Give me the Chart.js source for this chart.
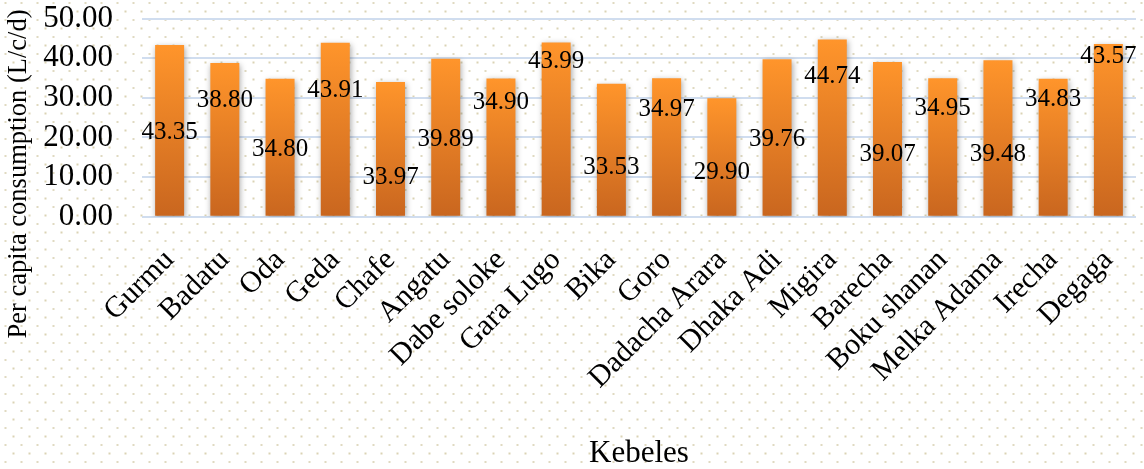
<!DOCTYPE html>
<html>
<head>
<meta charset="utf-8">
<script src="https://cdn.jsdelivr.net/npm/chart.js@4"></script>
<style>
  html, body { margin: 0; padding: 0; background: #fff; }
  #wrap { width: 1144px; height: 469px; }
</style>
</head>
<body>
<div id="wrap"><canvas id="c" width="1144" height="469"></canvas></div>
<script>
// Kebeles and their per-capita water consumption (L/c/d)
const kebeles = ["Gurmu", "Badatu", "Oda", "Geda", "Chafe", "Angatu", "Dabe soloke", "Gara Lugo",
  "Bika", "Goro", "Dadacha Arara", "Dhaka Adi", "Migira", "Barecha", "Boku shanan",
  "Melka Adama", "Irecha", "Degaga"];
const consumption = [43.35, 38.80, 34.80, 43.91, 33.97, 39.89, 34.90, 43.99,
  33.53, 34.97, 29.90, 39.76, 44.74, 39.07, 34.95, 39.48, 34.83, 43.57];
// Height (in axis units) at which each value label sits
const labelAt = [21.3, 29.3, 17.1, 31.9, 10.0, 19.6, 28.8, 39.3,
  12.4, 27.0, 11.1, 19.6, 35.4, 15.8, 27.4, 15.8, 29.6, 40.4];
const yTicks = [0, 10, 20, 30, 40, 50];

const SERIF = '"Liberation Serif", "Times New Roman", serif';

// Dotted paper background
const dotBackground = {
  id: 'dotBackground',
  beforeDraw(chart) {
    const { ctx, width, height } = chart;
    const tile = document.createElement('canvas');
    tile.width = 16; tile.height = 17;
    const t = tile.getContext('2d');
    t.fillStyle = '#ffffff';
    t.fillRect(0, 0, 16, 17);
    t.fillStyle = 'rgba(214,206,172,0.75)';
    t.fillRect(4.5, 2, 2, 2);
    t.fillStyle = 'rgba(214,206,172,0.9)';
    t.fillRect(12.5, 10.5, 2, 2);
    ctx.save();
    ctx.fillStyle = ctx.createPattern(tile, 'repeat');
    ctx.fillRect(0, 0, width, height);
    ctx.restore();
  }
};

// Soft drop shadow under the bars
const barShadow = {
  id: 'barShadow',
  beforeDatasetsDraw(chart) {
    const ctx = chart.ctx;
    ctx.save();
    ctx.shadowColor = 'rgba(0,0,0,0.35)';
    ctx.shadowBlur = 6;
    ctx.shadowOffsetX = 1;
    ctx.shadowOffsetY = 2;
  },
  afterDatasetsDraw(chart) {
    chart.ctx.restore();
  }
};

// Value labels and the vertical axis title
const valueLabels = {
  id: 'valueLabels',
  afterDatasetsDraw(chart) {
    const ctx = chart.ctx;
    const meta = chart.getDatasetMeta(0);
    const y = chart.scales.y;
    ctx.save();
    ctx.font = '25px ' + SERIF;
    ctx.fillStyle = '#000';
    ctx.textAlign = 'center';
    ctx.textBaseline = 'middle';
    meta.data.forEach((bar, i) => {
      ctx.fillText(consumption[i].toFixed(2), bar.x, y.getPixelForValue(labelAt[i]));
    });
    ctx.restore();
  },
  afterDraw(chart) {
    const ctx = chart.ctx;
    ctx.save();
    ctx.translate(19, 174);
    ctx.rotate(-Math.PI / 2);
    ctx.font = '26.5px ' + SERIF;
    ctx.fillStyle = '#000';
    ctx.textAlign = 'center';
    ctx.textBaseline = 'middle';
    ctx.fillText('Per capita consumption (L/c/d)', 0, 0);
    ctx.restore();
  }
};

function barGradient(context) {
  const chart = context.chart;
  const y = chart.scales.y;
  if (!chart.chartArea || !y) return '#F08A2A';
  const top = y.getPixelForValue(context.raw);
  const base = y.getPixelForValue(0);
  const g = chart.ctx.createLinearGradient(0, top, 0, base);
  g.addColorStop(0, '#FF952B');
  g.addColorStop(1, '#C9661F');
  return g;
}

new Chart(document.getElementById('c'), {
  type: 'bar',
  data: {
    labels: kebeles,
    datasets: [{
      data: consumption,
      backgroundColor: barGradient,
      borderWidth: 0,
      barPercentage: 0.525,
      categoryPercentage: 1.0
    }]
  },
  options: {
    responsive: false,
    animation: false,
    devicePixelRatio: 1,
    layout: { padding: { top: 4.1, right: 8, left: 0, bottom: 0 } },
    plugins: { legend: { display: false }, tooltip: { enabled: false } },
    scales: {
      x: {
        // invisible tick marks give the gap between the axis and the slanted names
        grid: { display: true, color: 'rgba(0,0,0,0)', drawTicks: true, tickLength: 26, tickColor: 'rgba(0,0,0,0)', drawOnChartArea: false },
        border: { display: false },
        ticks: {
          font: { family: SERIF, size: 30 },
          color: '#000',
          minRotation: 45,
          maxRotation: 45,
          autoSkip: false,
          padding: 0
        },
        title: {
          display: true,
          text: 'Kebeles',
          font: { family: SERIF, size: 31, lineHeight: 1.0 },
          color: '#000',
          padding: 0
        },
        afterFit(scale) { scale.height = 252.3; }
      },
      y: {
        min: 0,
        max: 50,
        afterBuildTicks(scale) { scale.ticks = yTicks.map(v => ({ value: v })); },
        grid: { color: '#d0ddef', lineWidth: 2, drawTicks: true, tickLength: 29, tickColor: 'rgba(0,0,0,0)' },
        border: { display: false },
        ticks: {
          font: { family: SERIF, size: 31 },
          color: '#000',
          padding: 0,
          autoSkip: false,
          callback: v => Number(v).toFixed(2)
        },
        afterFit(scale) { scale.width = 142; }
      }
    }
  },
  plugins: [dotBackground, barShadow, valueLabels]
});
</script>
</body>
</html>
